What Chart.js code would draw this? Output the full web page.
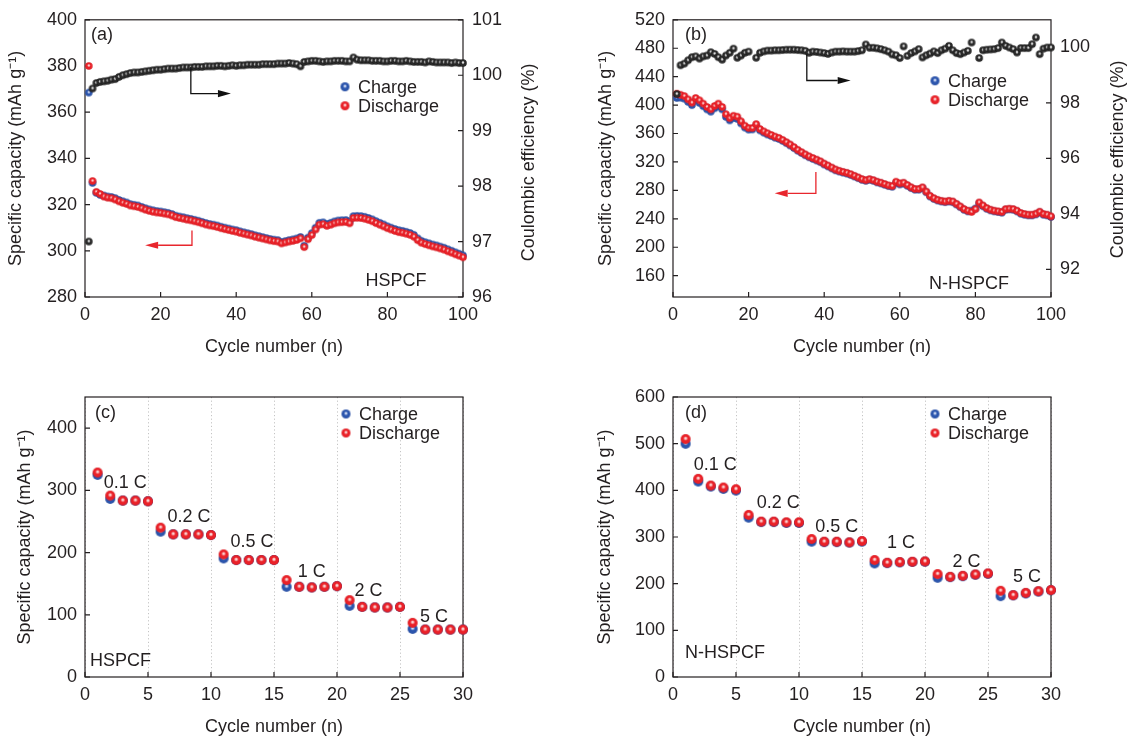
<!DOCTYPE html>
<html><head><meta charset="utf-8">
<script src="https://cdn.jsdelivr.net/npm/chart.js@4/dist/chart.umd.min.js"></script>
<style>
html,body{margin:0;padding:0;background:#fff;}
#wrap{position:relative;width:1128px;height:738px;overflow:hidden;background:#fff;}
.panel{position:absolute;width:564px;height:369px;}
.panel canvas{display:block;}
</style></head><body>
<div id="wrap">
<div class="panel" style="left:0;top:0"><canvas id="ca" width="564" height="369"></canvas></div>
<div class="panel" style="left:564px;top:0"><canvas id="cb" width="564" height="369"></canvas></div>
<div class="panel" style="left:0;top:369px"><canvas id="cc" width="564" height="369"></canvas></div>
<div class="panel" style="left:564px;top:369px"><canvas id="cd" width="564" height="369"></canvas></div>
</div>
<script>
// ---------------- DATA ----------------
const cycles100 = Array.from({length: 100}, (_, i) => i + 1);
const cycles30 = Array.from({length: 30}, (_, i) => i + 1);

// (a) HSPCF cycling
const hspcfDischarge = [380,330.2,325.5,324.6,323.5,323.0,322.8,322.2,321.4,320.8,
 320.3,319.6,319.3,319.0,318.4,317.8,317.3,316.9,316.6,316.4,
 316.1,315.8,315.3,314.6,314.2,313.9,313.5,313.2,312.8,312.4,
 311.9,311.4,311.0,310.7,310.3,309.8,309.4,309.0,308.6,308.3,
 307.8,307.4,307.0,306.6,306.1,305.7,305.3,304.9,304.5,304.2,
 304.0,303.2,303.6,304.0,304.3,304.7,305.4,301.6,305.0,306.8,
 309.2,311.3,311.5,310.8,311.3,311.9,312.3,312.4,312.5,311.9,
 314.2,314.3,314.2,313.9,313.4,312.8,312.0,311.3,310.6,309.8,
 309.2,308.6,308.1,307.8,307.4,306.9,306.1,304.6,303.5,302.9,
 302.4,301.9,301.5,301.0,300.5,299.8,299.2,298.5,297.9,297.2];
const hspcfCharge = [368.5,329.4,325.1,324.2,323.9,323.5,323.3,322.8,322.0,321.4,
 320.9,320.2,319.9,319.6,319.0,318.4,317.9,317.5,317.2,317.0,
 316.7,316.4,315.9,315.2,314.8,314.5,314.1,313.8,313.4,313.0,
 312.5,312.0,311.6,311.3,310.9,310.4,310.0,309.6,309.2,308.9,
 308.4,308.0,307.6,307.2,306.7,306.3,305.9,305.5,305.1,304.8,
 304.6,303.8,304.2,304.6,304.9,305.3,306.0,302.2,305.7,307.6,
 310.0,312.1,312.3,311.6,312.1,312.7,313.1,313.2,313.3,312.7,
 315.0,315.1,315.0,314.7,314.2,313.6,312.8,312.1,311.4,310.6,
 310.0,309.4,308.9,308.6,308.2,307.7,306.9,305.4,304.3,303.7,
 303.2,302.7,302.3,301.8,301.3,300.6,300.0,299.3,298.7,298.0];
const hspcfCE = [97.0,99.76,99.86,99.88,99.89,99.90,99.92,99.93,99.97,100.0,
 100.02,100.04,100.05,100.05,100.06,100.07,100.08,100.09,100.10,100.10,
 100.11,100.12,100.12,100.12,100.13,100.14,100.14,100.14,100.15,100.15,
 100.15,100.16,100.16,100.16,100.17,100.17,100.16,100.17,100.18,100.17,
 100.18,100.18,100.19,100.19,100.19,100.19,100.20,100.20,100.20,100.20,
 100.21,100.21,100.21,100.22,100.21,100.20,100.16,100.24,100.25,100.26,
 100.26,100.25,100.24,100.25,100.25,100.26,100.26,100.26,100.25,100.25,
 100.32,100.28,100.27,100.27,100.27,100.26,100.26,100.26,100.25,100.25,
 100.26,100.26,100.25,100.25,100.26,100.25,100.24,100.24,100.24,100.23,
 100.25,100.24,100.23,100.23,100.23,100.23,100.22,100.23,100.22,100.22];

// (b) N-HSPCF cycling
const nDischarge = [416,414.5,412.7,408,403.4,410,406.7,402,397.4,394,
 398.8,402,397.4,387.2,381.6,385,383.6,377.1,371,367.7,
 367.7,373.3,366.3,363,360.3,358,355.6,353.8,351,347.8,
 344.5,340.8,337,333.8,330.6,327.8,325.5,323.2,320.9,317.6,
 314.9,312.1,309.3,307.5,306,304.7,302.8,300.5,298.2,295.8,
 294.4,295.8,294.4,292.2,290.8,288.9,287,286.1,292.2,289.9,
 290.8,287.5,284.3,282,282,284.3,278.3,272.3,269,266.7,
 265.3,264.4,265.3,264.4,261.1,257.4,253.7,251.4,249.6,253.7,
 263,258.8,255.1,252.8,251.4,250.5,249.6,253.7,254.2,253.7,
 251.4,248.2,246.7,245.8,245.8,247.2,250,246.7,245.8,243.5];
const nCharge = [410,410.5,409,404.5,400,406.5,403,398.5,394,390.8,
 395.5,398.6,394,383.5,378.5,382,380.5,374.2,368.4,365.5,
 365.8,371.2,364.5,361.3,358.7,356.5,354.2,352.4,349.7,346.5,
 343.2,339.6,335.9,332.6,329.5,326.7,324.4,322.1,319.8,316.5,
 313.8,311,308.3,306.5,305,303.7,301.8,299.6,297.3,294.9,
 293.5,294.9,293.5,291.3,289.9,288,286.1,285.2,290.5,288.4,
 289.6,286.5,283.3,281,281,283.3,277.4,271.4,268.1,265.8,
 264.4,263.5,264.4,263.5,260.2,256.5,252.8,250.5,251.5,254.5,
 261.5,257.8,254.2,251.9,250.5,249.6,248.7,252.8,253.3,252.8,
 250.5,247.3,245.8,244.9,244.9,246.3,249.1,245.8,244.9,242.6];
const nCE = [98.32,99.36,99.42,99.54,99.65,99.68,99.60,99.68,99.71,99.83,
 99.77,99.65,99.56,99.71,99.81,99.96,99.63,99.71,99.81,99.85,
 null,99.63,99.81,99.86,99.89,99.89,99.90,99.90,99.91,99.92,
 99.92,99.92,99.91,99.90,99.88,99.81,99.85,99.84,99.82,99.80,
 99.77,99.82,99.85,99.85,99.86,99.85,99.85,99.85,99.87,99.90,
 100.11,99.99,99.99,99.97,99.94,99.90,99.85,99.75,99.72,99.62,
 100.04,99.70,99.80,99.86,99.94,99.64,99.72,99.78,99.86,99.80,
 99.90,99.96,100.06,99.90,99.80,99.76,99.82,99.88,100.18,null,
 99.62,99.90,99.92,99.93,99.94,99.98,100.18,100.06,100.00,99.94,
 99.82,99.98,99.98,99.98,100.12,100.36,99.76,99.96,100.00,100.00];

// (c) HSPCF rate
const hspcfRateDischarge = [328.6,291.5,283.5,283.5,282.4,240,229.3,229.3,229.3,228.2,
 197,188,188,188,188,155.7,145,144,145,146,
 123.5,112.8,111.7,111.7,112.8,87,76.2,76.2,76.2,76.2];
const hspcfRateCharge = [324.8,286.2,283.5,283.5,282.4,233.6,229.3,229.3,229.3,228.2,
 190.6,188,188,188,188,145,145,144,145,146,
 114.4,112.8,111.7,111.7,112.8,77.3,76.2,76.2,76.2,76.2];
// (d) N-HSPCF rate
const nRateDischarge = [509.8,424.6,410.3,406,402.4,347.3,333,333,331.5,331.5,
 295.7,290,290,288.5,291.4,250.6,244.9,246.3,247,247.7,
 220.5,214.8,216.9,219.8,222,184.7,175.4,180.4,184,186.2];
const nRateCharge = [499.8,418.9,408,403,399.5,341.5,332,332,330,330,
 290,289,289,288,290,243.4,244,245.5,246.5,247,
 212.6,214,216,219,221,173.3,175,179,183,186];

// rate labels and positions (cycle, capacity)
const rateNames = ['0.1 C','0.2 C','0.5 C','1 C','2 C','5 C'];
const rateLabelPosC = [[3.2,312],[8.25,257],[13.25,217],[18.0,169],[22.5,138],[27.7,96]];
const rateLabelPosD = [[3.35,454],[8.35,373],[13.0,321],[18.1,287],[23.3,246],[28.1,214]];

// axis ticks
const xTicksCycle100 = [0,20,40,60,80,100];
const xTicksCycle30 = [0,5,10,15,20,25,30];
const yTicksA = [280,300,320,340,360,380,400];
const y2TicksA = [96,97,98,99,100,101];
const yTicksB = [160,200,240,280,320,360,400,440,480,520];
const y2TicksB = [92,94,96,98,100];
const yTicksC = [0,100,200,300,400];
const yTicksD = [0,100,200,300,400,500,600];

// ---------------- STYLE ----------------
const INK = '#231f20';
const RED = '#ea2128', BLUE = '#2b55ad';
const FONT = "'Liberation Sans', Arial, Helvetica, sans-serif";
Chart.defaults.font.family = FONT;
Chart.defaults.font.size = 18;
Chart.defaults.color = INK;

function sphere(base, dark, light, d) {
  const c = document.createElement('canvas');
  const s = Math.ceil(d) + 2;
  c.width = s; c.height = s;
  const g = c.getContext('2d');
  const cx = s / 2, cy = s / 2, r = d / 2;
  const grad = g.createRadialGradient(cx, cy - r * 0.2, 0, cx, cy, r);
  grad.addColorStop(0, '#ffffff');
  grad.addColorStop(0.22, light);
  grad.addColorStop(0.45, base);
  grad.addColorStop(0.85, base);
  grad.addColorStop(1, dark);
  g.fillStyle = grad;
  g.beginPath(); g.arc(cx, cy, r, 0, Math.PI * 2); g.fill();
  return c;
}
const IMG = {
  redS: sphere(RED, '#cf1a21', '#f8b4b4', 7.5),
  blueS: sphere(BLUE, '#22479a', '#b3c4ea', 7.5),
  blackS: sphere('#2a2a2a', '#111111', '#d0d0d0', 7.5),
  redL: sphere(RED, '#cf1a21', '#f8b4b4', 10),
  blueL: sphere(BLUE, '#22479a', '#b3c4ea', 10),
  redLeg: sphere(RED, '#cf1a21', '#f8b4b4', 9),
  blueLeg: sphere(BLUE, '#22479a', '#b3c4ea', 9)
};

function makeDecor(spec) {
  return {
    id: 'decor',
    beforeDatasetsDraw(chart) {
      const ctx = chart.ctx, a = chart.chartArea;
      ctx.save();
      ctx.strokeStyle = INK; ctx.lineWidth = 1.2;
      ctx.strokeRect(a.left, a.top, a.right - a.left, a.bottom - a.top);
      const TL = 5;
      ctx.beginPath();
      for (const s of Object.values(chart.scales)) {
        for (const t of s.ticks) {
          const p = s.getPixelForValue(t.value);
          if (s.axis === 'x') { ctx.moveTo(p, a.bottom); ctx.lineTo(p, a.bottom - TL); }
          else if (s.position === 'left') { ctx.moveTo(a.left, p); ctx.lineTo(a.left + TL, p); }
          else { ctx.moveTo(a.right, p); ctx.lineTo(a.right - TL, p); }
        }
      }
      ctx.stroke();
      ctx.restore();
    },
    afterDraw(chart) {
      const ctx = chart.ctx, a = chart.chartArea;
      ctx.save();
      ctx.fillStyle = INK;
      ctx.font = '18px ' + FONT;
      ctx.textBaseline = 'middle';
      for (const t of spec.texts) {
        ctx.textAlign = t.align || 'left';
        ctx.fillText(t.text, a.left + t.dx, a.top + t.dy);
      }
      if (spec.dataLabels) {
        ctx.textAlign = 'center';
        spec.dataLabels.names.forEach((n, i) => {
          const [cx, cy] = spec.dataLabels.pos[i];
          ctx.fillText(n, chart.scales.x.getPixelForValue(cx), chart.scales.y.getPixelForValue(cy));
        });
      }
      const L = spec.legend;
      const items = [[IMG.blueLeg, 'Charge'], [IMG.redLeg, 'Discharge']];
      ctx.textAlign = 'left';
      items.forEach(([img, txt], i) => {
        const cx = a.left + L.dx, cy = a.top + L.dy + i * L.gap;
        ctx.drawImage(img, cx - img.width / 2, cy - img.height / 2);
        ctx.fillText(txt, cx + 13, cy + 1);
      });
      if (spec.rightTitle) {
        ctx.save();
        ctx.translate(spec.rightTitle.x, (a.top + a.bottom) / 2 + spec.rightTitle.dy);
        ctx.rotate(-Math.PI / 2);
        ctx.textAlign = 'center';
        ctx.fillText('Coulombic efficiency (%)', 0, 0);
        ctx.restore();
      }
      for (const ar of (spec.arrows || [])) {
        const ys = chart.scales[ar.axis], xs = chart.scales.x;
        const P = ar.pts.map(([x, y]) => [xs.getPixelForValue(x), ys.getPixelForValue(y)]);
        ctx.strokeStyle = ar.color; ctx.fillStyle = ar.color; ctx.lineWidth = 1.3;
        const n = P.length;
        const [tx, ty] = P[n - 1], [px, py] = P[n - 2];
        const ang = Math.atan2(ty - py, tx - px);
        const HL = 13, HW = 3.6;
        const bx = tx - HL * Math.cos(ang), by = ty - HL * Math.sin(ang);
        ctx.beginPath();
        ctx.moveTo(P[0][0], P[0][1]);
        for (let i = 1; i < n - 1; i++) ctx.lineTo(P[i][0], P[i][1]);
        ctx.lineTo(bx, by);
        ctx.stroke();
        ctx.beginPath();
        ctx.moveTo(tx, ty);
        ctx.lineTo(bx - HW * Math.sin(ang), by + HW * Math.cos(ang));
        ctx.lineTo(bx + HW * Math.sin(ang), by - HW * Math.cos(ang));
        ctx.closePath(); ctx.fill();
      }
      ctx.restore();
    }
  };
}

function ds(label, xs, ys, img, axis, order) {
  return { label, data: xs.map((x, i) => ({x, y: ys[i]})), yAxisID: axis, showLine: false,
    pointStyle: img, pointRadius: 4, pointHoverRadius: 4, order, clip: false };
}

function buildChart(id, cfg) {
  const scales = {
    x: { type: 'linear', position: 'bottom', min: cfg.xTicks[0], max: cfg.xTicks[cfg.xTicks.length - 1],
      afterBuildTicks: s => { s.ticks = cfg.xTicks.map(v => ({value: v})); },
      ticks: { padding: 7, color: INK, font: {size: 18}, maxRotation: 0, autoSkip: false },
      grid: cfg.xGrid ? { display: true, drawOnChartArea: true, drawTicks: false, color: '#c4c4c4', lineWidth: 1 }
                      : { display: false, drawTicks: false },
      border: { display: false, dash: [1.2, 2.4] },
      title: { display: true, text: 'Cycle number (n)', color: INK, font: {size: 18}, padding: {top: 0, bottom: cfg.xTitlePad} },
      afterFit: s => { s.height = cfg.xH; } },
    y: { type: 'linear', position: 'left', min: cfg.yMin, max: cfg.yMax,
      afterBuildTicks: s => { s.ticks = cfg.yTicks.map(v => ({value: v})); },
      ticks: { padding: 8, color: INK, font: {size: 18}, autoSkip: false },
      grid: { display: false, drawTicks: false }, border: { display: false },
      title: { display: true, text: 'Specific capacity (mAh g⁻¹)', color: INK, font: {size: 18}, padding: {top: cfg.yTitlePad, bottom: 0} },
      afterFit: s => { s.width = cfg.yW; } }
  };
  if (cfg.y2Ticks) {
    scales.y2 = { type: 'linear', position: 'right', min: cfg.y2Min, max: cfg.y2Max,
      afterBuildTicks: s => { s.ticks = cfg.y2Ticks.map(v => ({value: v})); },
      ticks: { padding: 9, color: INK, font: {size: 18}, autoSkip: false },
      grid: { display: false, drawTicks: false }, border: { display: false },
      title: { display: false },
      afterFit: s => { s.width = cfg.y2W; } };
  }
  return new Chart(document.getElementById(id), {
    type: 'scatter',
    data: { datasets: cfg.datasets },
    options: {
      responsive: false, animation: false, devicePixelRatio: 1, events: [],
      layout: { padding: { top: cfg.padTop, right: cfg.padRight || 0, left: 0, bottom: 0 } },
      plugins: { legend: { display: false }, tooltip: { enabled: false } },
      scales
    },
    plugins: [makeDecor(cfg.decor)]
  });
}

// (a)
buildChart('ca', {
  xTicks: xTicksCycle100, yTicks: yTicksA, yMin: 280, yMax: 400,
  y2Ticks: y2TicksA, y2Min: 96, y2Max: 101,
  yW: 85, y2W: 101, xH: 72, padTop: 18, yTitlePad: 5, xTitlePad: 11,
  datasets: [
    ds('Charge', cycles100, hspcfCharge, IMG.blueS, 'y', 3),
    ds('Discharge', cycles100, hspcfDischarge, IMG.redS, 'y', 2),
    ds('Coulombic efficiency', cycles100, hspcfCE, IMG.blackS, 'y2', 1)
  ],
  decor: {
    texts: [{text: '(a)', dx: 6, dy: 15}, {text: 'HSPCF', dx: 311, dy: 261, align: 'center'}],
    legend: {dx: 260, dy: 67, gap: 19},
    rightTitle: {x: 529, dy: 4},
    arrows: [
      {color: '#111', axis: 'y2', pts: [[28, 100.15], [28, 99.67], [38.6, 99.67]]},
      {color: '#e8262d', axis: 'y', pts: [[28.3, 308.8], [28.3, 302.4], [15.9, 302.4]]}
    ]
  }
});

// (b)
buildChart('cb', {
  xTicks: xTicksCycle100, yTicks: yTicksB, yMin: 130, yMax: 520,
  y2Ticks: y2TicksB, y2Min: 91, y2Max: 101,
  yW: 109, y2W: 77, xH: 72, padTop: 18, yTitlePad: 31.5, xTitlePad: 11,
  datasets: [
    ds('Charge', cycles100, nCharge, IMG.blueS, 'y', 3),
    ds('Discharge', cycles100, nDischarge, IMG.redS, 'y', 2),
    ds('Coulombic efficiency', cycles100, nCE, IMG.blackS, 'y2', 1)
  ],
  decor: {
    texts: [{text: '(b)', dx: 12, dy: 15}, {text: 'N-HSPCF', dx: 296, dy: 264, align: 'center'}],
    legend: {dx: 262, dy: 61, gap: 19},
    rightTitle: {x: 554, dy: 1},
    arrows: [
      {color: '#111', axis: 'y2', pts: [[35.4, 99.76], [35.4, 98.81], [47, 98.81]]},
      {color: '#e8262d', axis: 'y', pts: [[37.8, 306], [37.8, 275.9], [26.9, 275.9]]}
    ]
  }
});

// (c)
buildChart('cc', {
  xTicks: xTicksCycle30, xGrid: true, yTicks: yTicksC, yMin: 0, yMax: 450,
  yW: 85, padRight: 101, xH: 61, padTop: 28, yTitlePad: 14, xTitlePad: 0,
  datasets: [
    ds('Charge', cycles30, hspcfRateCharge, IMG.blueL, 'y', 2),
    ds('Discharge', cycles30, hspcfRateDischarge, IMG.redL, 'y', 1)
  ],
  decor: {
    texts: [{text: '(c)', dx: 10, dy: 16}, {text: 'HSPCF', dx: 5, dy: 264}],
    dataLabels: {names: rateNames, pos: rateLabelPosC},
    legend: {dx: 261, dy: 17, gap: 19}
  }
});

// (d)
buildChart('cd', {
  xTicks: xTicksCycle30, xGrid: true, yTicks: yTicksD, yMin: 0, yMax: 600,
  yW: 109, padRight: 77, xH: 61, padTop: 28, yTitlePad: 30.5, xTitlePad: 0,
  datasets: [
    ds('Charge', cycles30, nRateCharge, IMG.blueL, 'y', 2),
    ds('Discharge', cycles30, nRateDischarge, IMG.redL, 'y', 1)
  ],
  decor: {
    texts: [{text: '(d)', dx: 12, dy: 16}, {text: 'N-HSPCF', dx: 12, dy: 256}],
    dataLabels: {names: rateNames, pos: rateLabelPosD},
    legend: {dx: 262, dy: 17, gap: 19}
  }
});
</script>
</body></html>
